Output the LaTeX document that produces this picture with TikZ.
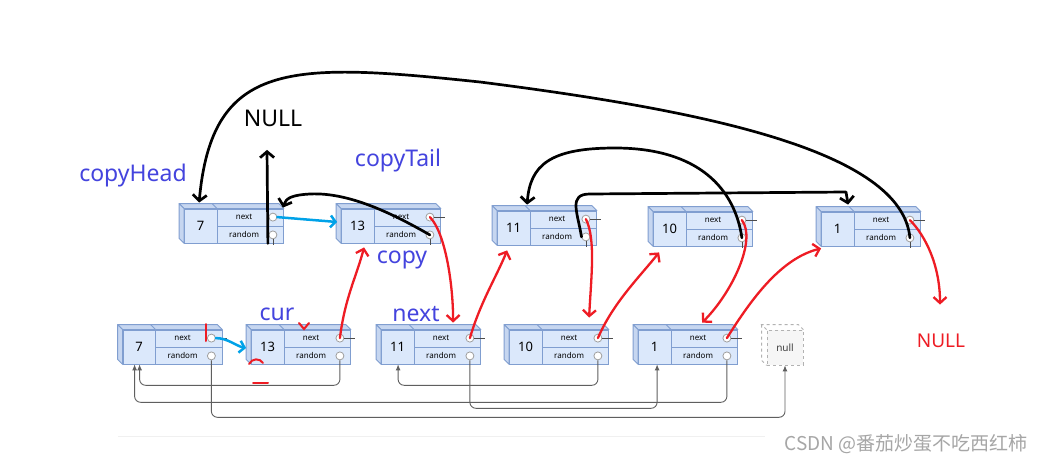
\documentclass[tikz,border=0pt]{standalone}
\usepackage{fontspec}
\setmainfont{Noto Sans}
\newfontfamily\cjkfont{Noto Sans CJK SC}
\usetikzlibrary{arrows.meta,calc}

\definecolor{boxfill}{RGB}{219,232,251}
\definecolor{boxside}{RGB}{198,214,240}
\definecolor{boxedge}{RGB}{128,158,208}
\definecolor{labelblue}{RGB}{68,68,222}
\definecolor{penred}{RGB}{238,28,36}
\definecolor{penblue}{RGB}{0,162,232}
\definecolor{linkgray}{RGB}{95,95,95}

% one list cell: name, centre of front face, value
\newcommand{\listnode}[3]{%
    \node[listbox] (#1) at (#2) {};
    \filldraw[boxface] (#1.north west) -- ++(-5,-5) -- ($(#1.north east)+(-5,-5)$) -- (#1.north east) -- cycle;
    \filldraw[boxface] (#1.north west) -- ++(-5,-5) -- ($(#1.south west)+(-5,-5)$) -- (#1.south west) -- cycle;
    \draw[boxline] ($(#1.north west)+(33,0)$) -- ++(-5,-5);
    \draw[boxline] ($(#1.north west)+(33,0)$) -- ($(#1.south west)+(33,0)$);
    \draw[boxline] ($(#1.west)+(33,0)$) -- (#1.east);
    \node[valtext] at ($(#1.west)+(16.5,0)$) {#3};
    \node[fieldtext] at ($(#1.north west)+(60,8.5)$) {next};
    \node[fieldtext] at ($(#1.south west)+(60,-8.5)$) {random};
    \node[dot] (#1-n) at ($(#1.north east)+(-11,8.5)$) {};
    \node[dot] (#1-r) at ($(#1.south east)+(-11,-8.5)$) {};
    \draw[stub] (#1-n.east) -- ++(11,0);
}

\begin{document}
\begin{tikzpicture}[x=1pt, y=-1pt]
    % Define styles
    \tikzset{
        listbox/.style={draw=boxedge, fill=boxfill, line width=0.8pt, minimum width=99pt, minimum height=34pt, inner sep=0pt},
        boxface/.style={draw=boxedge, fill=boxside, line width=0.8pt, line join=round},
        boxline/.style={draw=boxedge, line width=0.8pt},
        valtext/.style={font=\fontsize{13}{15}\selectfont, inner sep=0pt},
        fieldtext/.style={font=\fontsize{8}{9}\selectfont, inner sep=0pt},
        dot/.style={circle, draw=gray!75, fill=white, line width=0.8pt, minimum size=8pt, inner sep=0pt},
        stub/.style={draw=black!70, line width=0.7pt},
        nullbox/.style={draw=gray!60, dashed, fill=gray!7, line width=0.8pt, minimum width=36pt, minimum height=35pt, inner sep=0pt, font=\fontsize{10}{12}\selectfont, text=black!75},
        link/.style={draw=linkgray, line width=0.9pt, rounded corners=6pt, -{Latex[length=6pt,width=5pt]}},
        lbl/.style={text=labelblue, font=\fontsize{23}{27}\selectfont},
        ink/.style={line width=2.7pt, line cap=round, line join=round, -{Straight Barb[length=6pt,width=14pt]}},
        redpen/.style={draw=penred, line width=2.3pt, line cap=round, line join=round, -{Straight Barb[length=6pt,width=13pt]}},
        bluepen/.style={draw=penblue, line width=2.5pt, line cap=round, line join=round, -{Straight Barb[length=5pt,width=12pt]}},
        redmark/.style={draw=penred, line width=2pt, line cap=round}
    }
    \path[use as bounding box, fill=white] (0,0) rectangle (1046,466);

    % Original list
    \listnode{b7}{172.5,347}{7}
    \listnode{b13}{301,347}{13}
    \listnode{b11}{431,347}{11}
    \listnode{b10}{559,347}{10}
    \listnode{b1}{688,347}{1}
    \node[nullbox] (nul) at (785,347.5) {null};
    \draw[gray!60, dashed, line width=0.8pt] (nul.north west) -- ++(-5,-5) -- ($(nul.north east)+(-5,-5)$) -- (nul.north east);
    \draw[gray!60, dashed, line width=0.8pt] ($(nul.north west)+(-5,-5)$) -- ($(nul.south west)+(-5,-5)$) -- (nul.south west);

    % Copied list
    \listnode{t7}{234,226}{7}
    \listnode{t13}{391,226}{13}
    \listnode{t11}{547,228}{11}
    \listnode{t10}{703,229}{10}
    \listnode{t1}{871,229}{1}
    \foreach \n in {t7,t13,t11,t10,t1}
        \draw[stub] (\n-r.south) -- ++(0,6);

    % random pointers of the original list
    \draw[link] (b13-r.south) -- ++(0,25) -| ($(b7.south west)+(17,0)$);
    \draw[link] (b1-r.south) -- ++(0,42) -| ($(b7.south west)+(12,0)$);
    \draw[link] (b7-r.south) -- ++(0,57) -| (nul.south);
    \draw[link] (b10-r.south) -- ++(0,25) -| ($(b11.south west)+(17,0)$);
    \draw[link] (b11-r.south) -- ++(0,48) -| ($(b1.south west)+(19,0)$);
    \draw[gray!12, line width=1pt] (118,436) -- (765,436);

    % Labels
    \node[lbl] (headlbl) at (133,176) {copyHead};
    \node[lbl] (taillbl) at (398,161) {copyTail};
    \node[lbl] (copylbl) at (402,260) {copy};
    \node[lbl] (curlbl) at (277,314) {cur};
    \node[lbl] (nextlbl) at (416,314) {next};
    \node[font=\fontsize{23}{27}\selectfont] (nullA) at (273,118) {NULL};
    \node[text=penred, font=\fontsize{19}{23}\selectfont] (nullB) at (941,341) {NULL};
    \node[text=gray!70, font=\cjkfont\fontsize{19}{22}\selectfont] (mark) at (906,444) {CSDN @番茄炒蛋不吃西红柿};

    % Black pen: links of the copied list
    \draw[ink] (t1-r.center) .. controls (902,150) and (700,110) .. (480,82)
        .. controls (290,62) and (212,60) .. ($(t7.north west)+(15,-6)$);
    \draw[ink] (t10-r.center) .. controls (735,190) and (700,148) .. (615,148)
        .. controls (550,148) and (530,165) .. ($(t11.north west)+(30,-6)$);
    \draw[ink] (t11-r.west) .. controls +(-4,-25) and (568,194) .. (590,194) -- (846,192) -- ($(t1.north west)+(27,-7)$);
    \draw[ink] (t13-r.center) .. controls (395,215) and (350,192) .. (310,194)
        .. controls (292,195) and (286,198) .. ($(t7.north east)+(-1,-1)$);
    \draw[ink] ($(t7.south east)+(-16,0)$) -- ($(nullA.south)+(-6,20)$);

    % Blue pen
    \draw[bluepen] (t7-n.east) -- ($(t13.west)+(-4,-4)$);
    \draw[bluepen] (b7-n.east) .. controls +(12,0) and +(-10,-2) .. ($(b13.west)+(-5,1)$);

    % Red pen: weaving the copies in
    \draw[redpen] (b13-n.center) .. controls +(5,-40) and +(-8,30) .. ($(t13.south west)+(23,4)$);
    \draw[redpen] (t13-n.center) .. controls +(15,15) and +(0,-40) .. ($(b11.north west)+(72,-7)$);
    \draw[redpen] (b11-n.center) .. controls +(10,-35) and +(-10,25) .. ($(t11.south west)+(10,5)$);
    \draw[redpen] (t11-n.center) .. controls +(10,20) and +(2,-40) .. ($(b10.north west)+(80,-12)$);
    \draw[redpen] (b10-n.center) .. controls +(15,-35) and +(-20,25) .. ($(t10.south west)+(6,6)$);
    \draw[redpen] (t10-n.center) .. controls +(15,20) and +(30,-30) .. ($(b1.north west)+(64,-7)$);
    \draw[redpen] (b1-n.center) .. controls +(25,-40) and +(-40,10) .. ($(t1.south west)+(0,2)$);
    \draw[redpen] (t1-n.center) .. controls +(15,15) and +(0,-40) .. ($(nullB.north)+(-1,-26)$);

    % stray red marks
    \draw[redmark] (206,324) -- (206,341);
    \draw[redmark] (299,323) -- (304,329) -- (309,323);
    \draw[redmark] (249,364) .. controls (252,358) and (260,358) .. (263,363);
    \draw[redmark] (253,383) -- (268,383);
\end{tikzpicture}
\end{document}
